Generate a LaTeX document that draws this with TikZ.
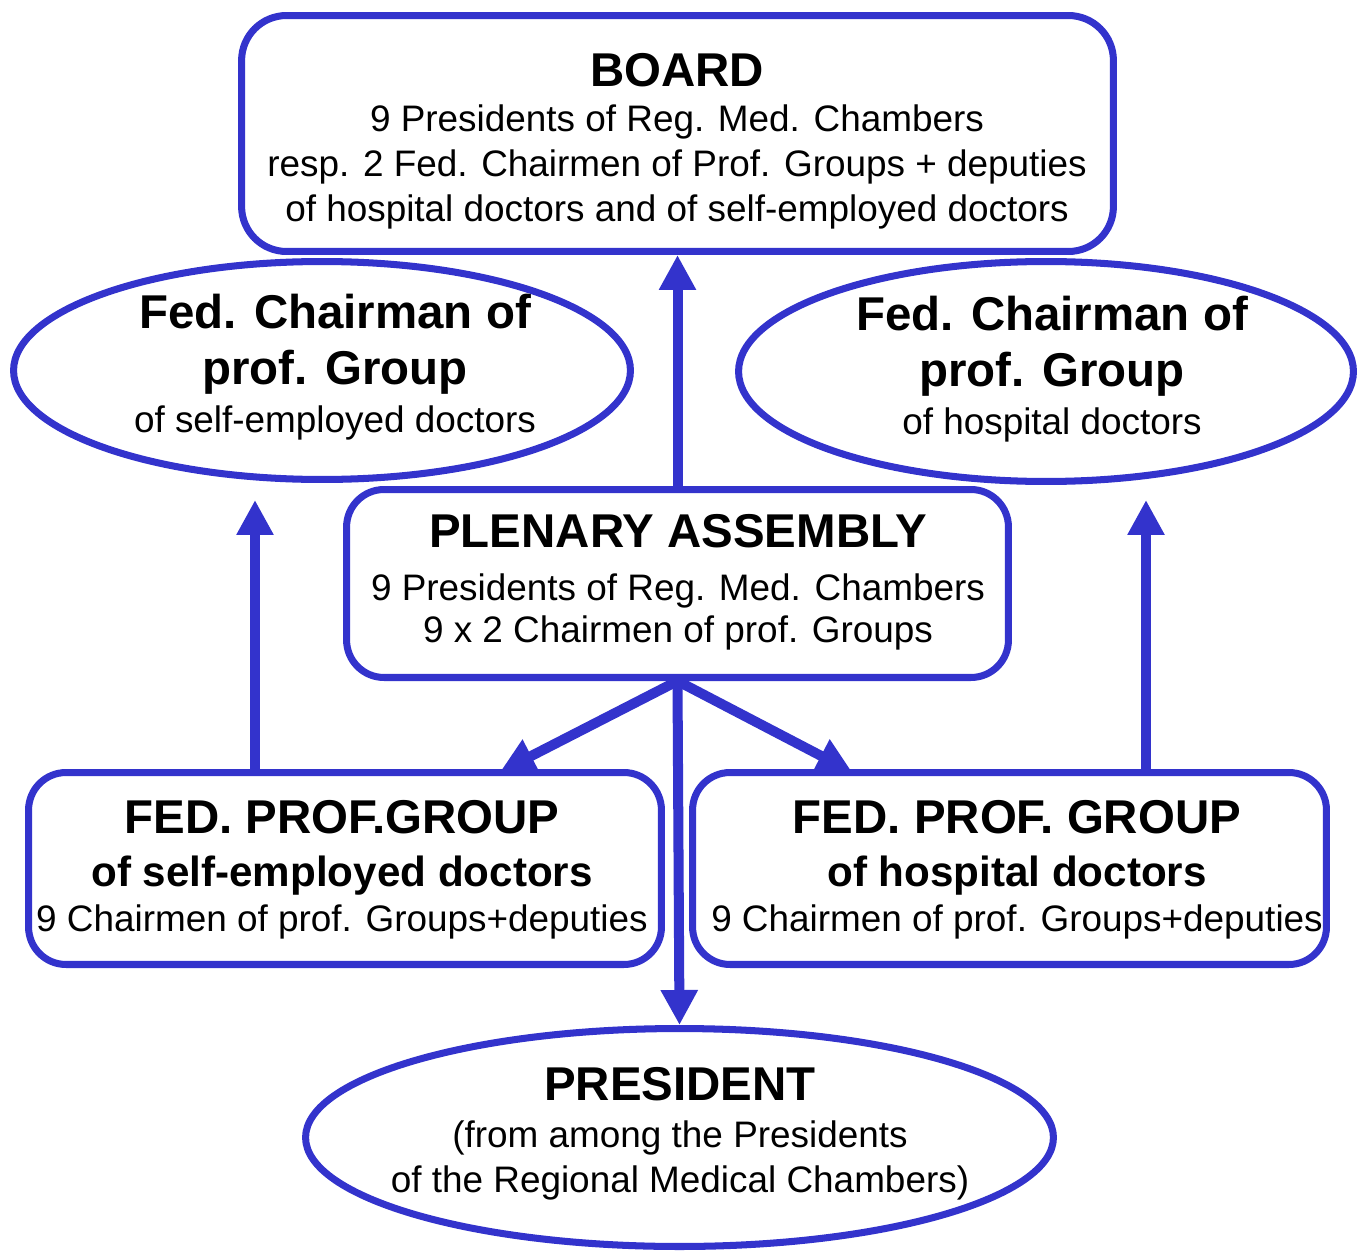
\documentclass[tikz,border=0pt]{standalone}
\usepackage{fontspec}
\setmainfont{Liberation Sans}
\usepackage{xcolor}
\usepackage{tikz}
\usetikzlibrary{shapes.geometric,arrows.meta}
\definecolor{chamberblue}{RGB}{51,51,204}

\begin{document}
\begin{tikzpicture}[x=0.02cm, y=-0.02cm, every node/.style={inner sep=0pt, align=center, font=\fontsize{21}{25.6}\selectfont},%
        frame/.style={draw=chamberblue, line width=4pt, rounded corners=0.75cm}, oval/.style={draw=chamberblue, line width=4pt, ellipse},%
        txt/.style={anchor=north}, big/.style={font=\fontsize{27}{32}\selectfont\bfseries},%
        arr/.style={draw=chamberblue, line width=5.7pt, -{Triangle[length=0.7cm, width=0.7cm]}}]
        \useasboundingbox (0,0) rectangle (1361,1253);
        \node[frame, rounded corners=0.9cm, minimum width=17.44cm, minimum height=4.72cm] (board) at (677.5,133.5) {};
        \node[oval, minimum width=12.34cm, minimum height=4.36cm] (lself) at (322,370.5) {};
        \node[oval, minimum width=12.3cm, minimum height=4.4cm] (rhosp) at (1046,371.5) {};
        \node[frame, minimum width=13.24cm, minimum height=3.76cm] (plenary) at (677.5,583.5) {};
        \node[frame, minimum width=12.66cm, minimum height=3.84cm] (lgroup) at (345,868.5) {};
        \node[frame, minimum width=12.68cm, minimum height=3.84cm] (rgroup) at (1009.5,868.5) {};
        \node[oval, minimum width=14.96cm, minimum height=4.36cm] (president) at (679.5,1137.5) {};

        \node[txt] (board-txt) at (677,53) {{\fontsize{27}{32}\selectfont\bfseries BOARD}\\
            9 Presidents of Reg. Med. Chambers\\
            resp. 2 Fed. Chairmen of Prof. Groups + deputies\\
            of hospital doctors and of self-employed doctors};
        \node[txt, big] (lself-txt) at (335,294) {Fed. Chairman of\\ prof. Group\\[-4.7pt]
            {\fontsize{21}{25.6}\selectfont\mdseries of self-employed doctors}};
        \node[txt, big] (rhosp-txt) at (1052,296) {Fed. Chairman of\\ prof. Group\\[-4.7pt]
            {\fontsize{21}{25.6}\selectfont\mdseries of hospital doctors}};
        \node[txt] (plenary-txt) at (678,514) {{\fontsize{27}{32}\selectfont\bfseries PLENARY ASSEMBLY}\\[4.4pt]
            9 Presidents of Reg. Med. Chambers\\[-1.7pt]
            9 x 2 Chairmen of prof. Groups};
        \node[txt] (lgroup-txt) at (342,800) {{\fontsize{27}{32}\selectfont\bfseries FED. PROF.GROUP}\\[4.6pt]
            {\fontsize{24}{28}\selectfont\bfseries of self-employed doctors}\\
            9 Chairmen of prof. Groups+deputies};
        \node[txt] (rgroup-txt) at (1017,800) {{\fontsize{27}{32}\selectfont\bfseries FED. PROF. GROUP}\\[4.6pt]
            {\fontsize{24}{28}\selectfont\bfseries of hospital doctors}\\
            9 Chairmen of prof. Groups+deputies};
        \node[txt] (president-txt) at (680,1067) {{\fontsize{27}{32}\selectfont\bfseries PRESIDENT}\\[1.2pt]
            (from among the Presidents\\
            of the Regional Medical Chambers)};

        \coordinate (lup) at (255,500);
        \coordinate (rup) at (1146,500);
        \coordinate (lin) at (500,772);
        \coordinate (rin) at (852,772);
        \draw[arr] (plenary.north) -- (board.south);
        \draw[arr] (lup |- lgroup.north) -- (lup);
        \draw[arr] (rup |- rgroup.north) -- (rup);
        \draw[arr] (plenary.south) -- (lin);
        \draw[arr] (plenary.south) -- (rin);
        \draw[arr] (plenary.south) -- (president.north);
    \end{tikzpicture}
\end{document}
